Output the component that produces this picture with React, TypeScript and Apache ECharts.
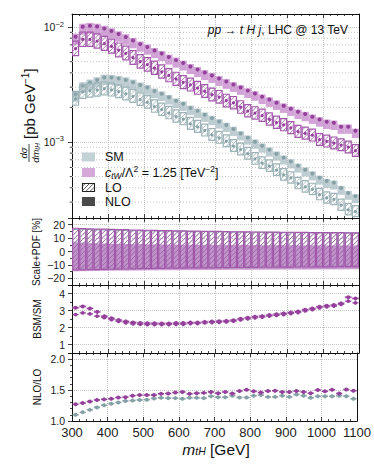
import React, { useEffect, useRef } from "react";
import * as echarts from "echarts";

const FONT = "Liberation Sans, Arial, DejaVu Sans, sans-serif";

// ---------- data ----------
const binEdges = [300, 320, 340, 360, 380, 400, 420, 440, 460, 480, 500, 520, 540, 560, 580, 600, 620, 640, 660, 680, 700, 720, 740, 760, 780, 800, 820, 840, 860, 880, 900, 920, 940, 960, 980, 1000, 1020, 1040, 1060, 1080, 1100];

// dsigma/dm_tH [pb/GeV]
const bsmNLO = [0.00824, 0.01006, 0.01026, 0.0101, 0.0097, 0.00923, 0.00869, 0.00819, 0.00763, 0.00711, 0.0067, 0.00625, 0.00588, 0.00548, 0.00516, 0.00486, 0.00453, 0.00427, 0.00402, 0.00379, 0.00357, 0.00336, 0.00316, 0.00298, 0.0028, 0.00264, 0.00248, 0.00234, 0.0022, 0.00207, 0.00195, 0.00183, 0.00175, 0.00166, 0.00157, 0.0015, 0.00147, 0.00136, 0.00136, 0.00125];
const smNLO = [0.002608, 0.003105, 0.003288, 0.003459, 0.003647, 0.003634, 0.003561, 0.00347, 0.003317, 0.003132, 0.002978, 0.002778, 0.002625, 0.002446, 0.002283, 0.00215, 0.001978, 0.001865, 0.001725, 0.001613, 0.001506, 0.001406, 0.0013, 0.001187, 0.00109, 0.001004, 0.000929, 0.000857, 0.000791, 0.000731, 0.000677, 0.000622, 0.000574, 0.000532, 0.000488, 0.000457, 0.000443, 0.000398, 0.00036, 0.000337];
const bsmLO = [0.006488, 0.007798, 0.007802, 0.007537, 0.007185, 0.006787, 0.006297, 0.005913, 0.005411, 0.005007, 0.004718, 0.004401, 0.004083, 0.003792, 0.003534, 0.003306, 0.003146, 0.002945, 0.002763, 0.002578, 0.002462, 0.002286, 0.002187, 0.002007, 0.00186, 0.001784, 0.001699, 0.001576, 0.001477, 0.001408, 0.001327, 0.001232, 0.00119, 0.001145, 0.001047, 0.001014, 0.000977, 0.000941, 0.000901, 0.000839];
const smLO = [0.002371, 0.002724, 0.002786, 0.002835, 0.002906, 0.002839, 0.002739, 0.002619, 0.002494, 0.002337, 0.002214, 0.002035, 0.001909, 0.001785, 0.001666, 0.001581, 0.001439, 0.001356, 0.001259, 0.001152, 0.001087, 0.001015, 0.000922, 0.00086, 0.00079, 0.000712, 0.000654, 0.000617, 0.000569, 0.000518, 0.000487, 0.000435, 0.000407, 0.000387, 0.000349, 0.000326, 0.000316, 0.000282, 0.000257, 0.000248];

// Scale+PDF relative uncertainty [%]
const bsmLoUp = [17.8, 17.6, 17.4, 17.2, 17.1, 16.9, 16.8, 16.7, 16.5, 16.4, 16.3, 16.2, 16.1, 16.0, 15.9, 15.8, 15.7, 15.6, 15.5, 15.5, 15.4, 15.3, 15.2, 15.2, 15.1, 15.0, 15.0, 14.9, 14.9, 14.8, 14.8, 14.7, 14.7, 14.6, 14.6, 14.5, 14.5, 14.5, 14.4, 14.4];
const bsmLoDn = [-14.2, -14.1, -14.0, -13.9, -13.8, -13.7, -13.6, -13.5, -13.4, -13.3, -13.2, -13.1, -13.0, -12.9, -12.9, -12.8, -12.7, -12.7, -12.6, -12.6, -12.5, -12.5, -12.4, -12.4, -12.3, -12.3, -12.2, -12.2, -12.1, -12.1, -12.1, -12.0, -12.0, -12.0, -11.9, -11.9, -11.9, -11.8, -11.8, -11.8];
const bsmNloUp = [6.5, 6.3, 6.1, 6.0, 5.9, 5.8, 5.7, 5.6, 5.5, 5.5, 5.4, 5.3, 5.3, 5.2, 5.2, 5.1, 5.1, 5.0, 5.0, 5.0, 4.9, 4.9, 4.9, 4.8, 4.8, 4.8, 4.7, 4.7, 4.7, 4.7, 4.6, 4.6, 4.6, 4.6, 4.6, 4.5, 4.5, 4.5, 4.5, 4.5];
const bsmNloDn = [-14.8, -14.7, -14.6, -14.5, -14.5, -14.4, -14.3, -14.3, -14.2, -14.2, -14.1, -14.1, -14.0, -14.0, -14.0, -13.9, -13.9, -13.9, -13.8, -13.8, -13.8, -13.7, -13.7, -13.7, -13.7, -13.6, -13.6, -13.6, -13.6, -13.5, -13.5, -13.5, -13.5, -13.5, -13.4, -13.4, -13.4, -13.4, -13.3, -13.3];
const smLoUp = [17.0, 16.9, 16.8, 16.6, 16.5, 16.4, 16.3, 16.2, 16.1, 16.0, 15.9, 15.8, 15.7, 15.6, 15.5, 15.4, 15.3, 15.2, 15.2, 15.1, 15.0, 15.0, 14.9, 14.9, 14.8, 14.8, 14.7, 14.7, 14.6, 14.6, 14.5, 14.5, 14.5, 14.4, 14.4, 14.4, 14.3, 14.3, 14.3, 14.2];
const smLoDn = [-13.0, -12.9, -12.8, -12.7, -12.6, -12.5, -12.4, -12.3, -12.2, -12.1, -12.0, -11.9, -11.9, -11.8, -11.7, -11.7, -11.6, -11.6, -11.5, -11.5, -11.4, -11.4, -11.3, -11.3, -11.3, -11.2, -11.2, -11.2, -11.1, -11.1, -11.1, -11.0, -11.0, -11.0, -11.0, -10.9, -10.9, -10.9, -10.9, -10.8];
const smNloUp = [7.5, 6.8, 6.3, 6.0, 5.8, 5.6, 5.5, 5.4, 5.3, 5.2, 5.1, 5.1, 5.0, 5.0, 4.9, 4.9, 4.8, 4.8, 4.8, 4.7, 4.7, 4.7, 4.6, 4.6, 4.6, 4.6, 4.5, 4.5, 4.5, 4.5, 4.5, 4.4, 4.4, 4.4, 4.4, 4.4, 4.3, 4.3, 4.3, 4.3];
const smNloDn = [-14.0, -13.9, -13.9, -13.8, -13.8, -13.7, -13.7, -13.6, -13.6, -13.5, -13.5, -13.5, -13.4, -13.4, -13.4, -13.3, -13.3, -13.3, -13.2, -13.2, -13.2, -13.2, -13.1, -13.1, -13.1, -13.1, -13.0, -13.0, -13.0, -13.0, -13.0, -12.9, -12.9, -12.9, -12.9, -12.9, -12.9, -12.8, -12.8, -12.8];

// BSM/SM
const ratioNLO = [3.16, 3.24, 3.12, 2.92, 2.66, 2.54, 2.44, 2.36, 2.30, 2.27, 2.25, 2.25, 2.24, 2.24, 2.26, 2.26, 2.29, 2.29, 2.33, 2.35, 2.37, 2.39, 2.43, 2.51, 2.57, 2.63, 2.67, 2.73, 2.78, 2.83, 2.88, 2.94, 3.05, 3.12, 3.22, 3.28, 3.32, 3.42, 3.78, 3.71];
const ratioLO = [2.76, 2.86, 2.80, 2.67, 2.58, 2.46, 2.36, 2.28, 2.22, 2.19, 2.17, 2.17, 2.17, 2.17, 2.19, 2.19, 2.23, 2.23, 2.27, 2.29, 2.31, 2.33, 2.37, 2.45, 2.51, 2.57, 2.61, 2.67, 2.71, 2.76, 2.82, 2.88, 2.98, 3.06, 3.16, 3.22, 3.26, 3.36, 3.55, 3.45];

// NLO/LO
const kBSM = [1.27, 1.29, 1.315, 1.34, 1.35, 1.36, 1.38, 1.385, 1.41, 1.42, 1.42, 1.42, 1.44, 1.445, 1.46, 1.47, 1.44, 1.45, 1.455, 1.47, 1.45, 1.47, 1.445, 1.485, 1.505, 1.48, 1.46, 1.485, 1.49, 1.47, 1.47, 1.485, 1.47, 1.45, 1.50, 1.48, 1.505, 1.445, 1.51, 1.49];
const kSM = [1.10, 1.14, 1.18, 1.22, 1.255, 1.28, 1.30, 1.325, 1.33, 1.34, 1.345, 1.365, 1.375, 1.37, 1.37, 1.36, 1.375, 1.375, 1.37, 1.40, 1.385, 1.385, 1.41, 1.38, 1.38, 1.41, 1.42, 1.39, 1.39, 1.41, 1.39, 1.43, 1.41, 1.375, 1.40, 1.40, 1.40, 1.41, 1.40, 1.36];

const logMinorTicks = [3e-4, 4e-4, 5e-4, 6e-4, 7e-4, 8e-4, 9e-4, 2e-3, 3e-3, 4e-3, 5e-3, 6e-3, 7e-3, 8e-3, 9e-3];

// ---------- styles ----------
const SM_FILL = "rgba(164,186,191,0.72)";
const SM_DOT = "#86a1a6";
const SM_EDGE = "#9db3b7";
const BSM_FILL = "rgba(192,128,198,0.72)";
const BSM_DOT = "#93409a";
const BSM_EDGE = "#a258aa";
const AXIS = "#111";
const GRIDC = "#c4c4c4";

function hatchLines(x0: number, y0: number, x1: number, y1: number, spacing: number, stroke: string, lw: number) {
  const out: any[] = [];
  const start = Math.ceil((x0 + y0) / spacing) * spacing;
  for (let c = start; c <= x1 + y1; c += spacing) {
    const xa = Math.max(x0, c - y1);
    const xb = Math.min(x1, c - y0);
    if (xb > xa) out.push({ type: "line", shape: { x1: xa, y1: c - xa, x2: xb, y2: c - xb }, style: { stroke, lineWidth: lw } });
  }
  return out;
}

function bandRender(fill: string, dot?: string, r = 2) {
  return (_p: any, api: any) => {
    const x0 = api.value(0), x1 = api.value(1), lo = api.value(2), hi = api.value(3);
    const a = api.coord([x0, hi]);
    const b = api.coord([x1, lo]);
    const children: any[] = [{ type: "rect", shape: { x: a[0], y: a[1], width: b[0] - a[0], height: b[1] - a[1] }, style: { fill } }];
    if (dot) {
      const c = api.coord([(x0 + x1) / 2, api.value(4)]);
      children.push({ type: "circle", shape: { cx: c[0], cy: c[1], r }, style: { fill: dot } });
    }
    return { type: "group", children };
  };
}

function boxRender(edge: string, dot?: string, r = 1.7) {
  return (_p: any, api: any) => {
    const x0 = api.value(0), x1 = api.value(1), lo = api.value(2), hi = api.value(3);
    const a = api.coord([x0, hi]);
    const b = api.coord([x1, lo]);
    const ix0 = a[0] + 0.7, iy0 = a[1] + 0.7, ix1 = b[0] - 0.7, iy1 = b[1] - 0.7;
    const children: any[] = hatchLines(ix0, iy0, ix1, iy1, 4.6, edge, 0.8);
    children.push({ type: "rect", shape: { x: a[0] + 0.6, y: a[1] + 0.6, width: b[0] - a[0] - 1.2, height: b[1] - a[1] - 1.2 }, style: { fill: "none", stroke: edge, lineWidth: 1.2 } });
    if (dot) {
      const c = api.coord([(x0 + x1) / 2, api.value(4)]);
      children.push({ type: "circle", shape: { cx: c[0], cy: c[1], r }, style: { fill: dot } });
    }
    return { type: "group", children };
  };
}

function pointRender(color: string, lw: number, r: number, bandFill?: string, half = 0) {
  return (_p: any, api: any) => {
    const x0 = api.value(0), x1 = api.value(1), v = api.value(2);
    const a = api.coord([x0, v]);
    const b = api.coord([x1, v]);
    const children: any[] = [];
    if (bandFill) {
      const t = api.coord([x0, v + half]);
      const u = api.coord([x1, v - half]);
      children.push({ type: "rect", shape: { x: t[0], y: t[1], width: u[0] - t[0], height: u[1] - t[1] }, style: { fill: bandFill } });
    }
    children.push({ type: "line", shape: { x1: a[0] + 0.5, y1: a[1], x2: b[0] - 0.5, y2: b[1] }, style: { stroke: color, lineWidth: lw } });
    children.push({ type: "circle", shape: { cx: (a[0] + b[0]) / 2, cy: a[1], r }, style: { fill: color } });
    return { type: "group", children };
  };
}

function App() {
  const ref = useRef<HTMLDivElement>(null);
  useEffect(() => {
    if (!ref.current) return;
    const chart = echarts.init(ref.current, null, { renderer: "svg" });

    const band = (vals: number[], up: number[], dn: number[]) =>
      vals.map((v, k) => [binEdges[k], binEdges[k + 1], v * (1 + dn[k] / 100), v * (1 + up[k] / 100), v]);
    const rel = (up: number[], dn: number[]) => up.map((u, k) => [binEdges[k], binEdges[k + 1], dn[k], u, 0]);
    const pts = (vals: number[]) => vals.map((v, k) => [binEdges[k], binEdges[k + 1], v]);

    const grids = [
      { top: 14, height: 204 },
      { top: 218, height: 67 },
      { top: 285, height: 68 },
      { top: 353, height: 68 },
    ];

    const xBottom = grids.map((_, i) => ({
      type: "value", gridIndex: i, min: 300, max: 1100, interval: 100, position: "bottom",
      axisLine: { show: true, onZero: false, lineStyle: { color: AXIS, width: 1 } },
      axisTick: { show: true, inside: true, length: 4, lineStyle: { color: AXIS, width: 0.8 } },
      minorTick: { show: true, splitNumber: 5, length: 2, lineStyle: { color: AXIS, width: 0.8 } },
      axisLabel: { show: i === 3, fontSize: 13, color: "#222", fontFamily: FONT, margin: 5, formatter: (v: number) => String(v) },
      splitLine: { show: true, lineStyle: { color: GRIDC, type: "dotted", width: 1 } },
    }));
    const xTop = grids.map((_, i) => ({
      type: "value", gridIndex: i, min: 300, max: 1100, interval: 100, position: "top",
      axisLine: { show: true, onZero: false, lineStyle: { color: AXIS, width: 1 } },
      axisTick: { show: true, inside: true, length: 4, lineStyle: { color: AXIS, width: 0.8 } },
      minorTick: { show: true, splitNumber: 5, length: 2, lineStyle: { color: AXIS, width: 0.8 } },
      axisLabel: { show: false },
      splitLine: { show: false },
    }));

    const yLab = { fontSize: 10.5, color: "#222", fontFamily: FONT, margin: 7, showMinLabel: false, showMaxLabel: false };
    const yCommon = {
      position: "left",
      axisLine: { show: true, onZero: false, lineStyle: { color: AXIS, width: 1 } },
      axisTick: { show: true, length: 4, lineStyle: { color: AXIS, width: 0.8 } },
      splitLine: { show: true, lineStyle: { color: GRIDC, type: "dotted", width: 1 } },
    };
    const yLeft: any[] = [
      {
        ...yCommon, type: "log", logBase: 10, gridIndex: 0, min: 2.18e-4, max: 1.3e-2,
        axisLabel: {
          ...yLab, margin: 8,
          formatter: (v: number) => {
            const e = Math.log10(v);
            const r = Math.round(e);
            if (Math.abs(e - r) > 1e-6) return "";
            return `{b|10}{s|${r < 0 ? "\u2212" : ""}${Math.abs(r)}}`;
          },
          rich: {
            b: { fontSize: 10.5, fontFamily: FONT, color: "#222", lineHeight: 14 },
            s: { fontSize: 7.5, fontFamily: FONT, color: "#222", lineHeight: 4, verticalAlign: "top" },
          },
        },
      },
      {
        ...yCommon, type: "value", gridIndex: 1, min: -25, max: 25, splitNumber: 5,
        minorTick: { show: true, splitNumber: 2, length: 2, lineStyle: { color: AXIS, width: 0.8 } },
        axisLabel: { ...yLab, formatter: (v: number) => (v < 0 ? "\u2212" + Math.abs(v) : String(v)) },
      },
      {
        ...yCommon, type: "value", gridIndex: 2, min: 0.5, max: 4.5, splitNumber: 4,
        minorTick: { show: true, splitNumber: 2, length: 2, lineStyle: { color: AXIS, width: 0.8 } },
        axisLabel: { ...yLab },
      },
      {
        ...yCommon, type: "value", gridIndex: 3, min: 1.0, max: 2.1, splitNumber: 2,
        minorTick: { show: true, splitNumber: 5, length: 2, lineStyle: { color: AXIS, width: 0.8 } },
        axisLabel: { ...yLab, showMinLabel: true, formatter: (v: number) => v.toFixed(1) },
      },
    ];
    const yRight = grids.map((_, i) => ({
      type: "value", gridIndex: i, position: "right", min: 0, max: 1,
      axisLine: { show: true, onZero: false, lineStyle: { color: AXIS, width: 1 } },
      axisTick: { show: false }, axisLabel: { show: false }, splitLine: { show: false },
    }));

    const cs = (g: number, data: any[], renderItem: any, z = 2, clip = true) => ({
      type: "custom", xAxisIndex: g, yAxisIndex: g, data, renderItem, z, clip, silent: true,
      encode: { x: [0, 1], y: [2, 3] },
    });

    const minorGrid = {
      type: "custom", xAxisIndex: 0, yAxisIndex: 0, z: 1, silent: true, clip: false,
      data: logMinorTicks.map((v) => [300, v]),
      encode: { x: 0, y: 1 },
      renderItem: (_p: any, api: any) => {
        const a = api.coord([300, api.value(1)]);
        const b = api.coord([1100, api.value(1)]);
        return {
          type: "group",
          children: [
            { type: "line", shape: { x1: a[0], y1: a[1], x2: b[0], y2: b[1] }, style: { stroke: GRIDC, lineWidth: 1, lineDash: [1, 2] } },
            { type: "line", shape: { x1: a[0] - 2.2, y1: a[1], x2: a[0], y2: a[1] }, style: { stroke: AXIS, lineWidth: 0.8 } },
          ],
        };
      },
    };

    const series: any[] = [
      minorGrid,
      // top panel
      cs(0, band(smNLO, smNloUp, smNloDn), bandRender(SM_FILL, SM_DOT, 2)),
      cs(0, band(smLO, smLoUp, smLoDn), boxRender(SM_EDGE, SM_DOT, 1.6)),
      cs(0, band(bsmNLO, bsmNloUp, bsmNloDn), bandRender(BSM_FILL, BSM_DOT, 2)),
      cs(0, band(bsmLO, bsmLoUp, bsmLoDn), boxRender(BSM_EDGE, BSM_DOT, 1.6)),
      // scale+pdf
      cs(1, rel(smNloUp, smNloDn), bandRender(SM_FILL)),
      cs(1, rel(smLoUp, smLoDn), boxRender(SM_EDGE)),
      cs(1, rel(bsmNloUp, bsmNloDn), bandRender(BSM_FILL)),
      cs(1, rel(bsmLoUp, bsmLoDn), boxRender(BSM_EDGE)),
      // BSM/SM
      { ...cs(2, pts(ratioLO), pointRender(BSM_DOT, 1.2, 1.9)), encode: { x: [0, 1], y: 2 } },
      { ...cs(2, pts(ratioNLO), pointRender(BSM_DOT, 1.2, 2, "rgba(192,128,198,0.55)", 0.07)), encode: { x: [0, 1], y: 2 } },
      // NLO/LO
      { ...cs(3, pts(kSM), pointRender(SM_DOT, 1.6, 2)), encode: { x: [0, 1], y: 2 } },
      { ...cs(3, pts(kBSM), pointRender(BSM_DOT, 1.6, 2)), encode: { x: [0, 1], y: 2 } },
    ];

    const legendHatch = hatchLines(82.7, 183.7, 94.3, 191.3, 4.2, "#333", 0.8).map((e) => ({ ...e, z: 100 }));

    const graphic: any[] = [
      // legend
      { type: "rect", z: 100, shape: { x: 82, y: 152.5, width: 13, height: 9 }, style: { fill: "#c3d2d5" } },
      { type: "text", z: 100, x: 105, y: 157, style: { text: "SM", fontSize: 12.5, fontFamily: FONT, fill: "#111", verticalAlign: "middle" } },
      { type: "rect", z: 100, shape: { x: 82, y: 168, width: 13, height: 9 }, style: { fill: "#d5a9d9" } },
      {
        type: "text", z: 100, x: 105, y: 172.5,
        style: {
          text: "{i|c}{s|tW}{n|/\u039B}{p|2}{n| = 1.25 [TeV}{p|\u22122}{n|]}",
          verticalAlign: "middle", fill: "#111",
          rich: {
            n: { fontSize: 12.5, fontFamily: FONT, fill: "#111", lineHeight: 16 },
            i: { fontSize: 12.5, fontFamily: FONT, fontStyle: "italic", fill: "#111", lineHeight: 16 },
            s: { fontSize: 8.5, fontFamily: FONT, fontStyle: "italic", fill: "#111", lineHeight: 5, verticalAlign: "bottom" },
            p: { fontSize: 8.5, fontFamily: FONT, fill: "#111", lineHeight: 5, verticalAlign: "top" },
          },
        },
      },
      { type: "rect", z: 99, shape: { x: 82, y: 183, width: 13, height: 9 }, style: { fill: "#fff" } },
      ...legendHatch,
      { type: "rect", z: 100, shape: { x: 82.5, y: 183.5, width: 12, height: 8 }, style: { fill: "none", stroke: "#222", lineWidth: 1.1 } },
      { type: "text", z: 100, x: 105, y: 188, style: { text: "LO", fontSize: 12.5, fontFamily: FONT, fill: "#111", verticalAlign: "middle" } },
      { type: "rect", z: 100, shape: { x: 82, y: 197, width: 13, height: 9 }, style: { fill: "#4a4a4a" } },
      { type: "text", z: 100, x: 105, y: 202, style: { text: "NLO", fontSize: 12.5, fontFamily: FONT, fill: "#111", verticalAlign: "middle" } },
      // process annotation
      {
        type: "text", z: 100, x: 348, y: 30,
        style: {
          text: "{i|pp} {n|\u2192} {i|t H j}{n|, LHC @ 13 TeV}",
          align: "right", verticalAlign: "middle",
          rich: {
            n: { fontSize: 12, fontFamily: FONT, fill: "#111" },
            i: { fontSize: 12, fontFamily: FONT, fontStyle: "italic", fill: "#111" },
          },
        },
      },
      // y titles
      {
        type: "group", x: 29, y: 116, rotation: Math.PI / 2,
        children: [
          { type: "text", x: -37, y: -6, style: { text: "d\u03C3", fontSize: 9.5, fontFamily: FONT, fontStyle: "italic", fill: "#111", align: "center", verticalAlign: "middle" } },
          { type: "line", shape: { x1: -46, y1: 0, x2: -28, y2: 0 }, style: { stroke: "#111", lineWidth: 0.8 } },
          {
            type: "text", x: -37, y: 6,
            style: {
              text: "{i|dm}{s|tH}", align: "center", verticalAlign: "middle",
              rich: {
                i: { fontSize: 9.5, fontFamily: FONT, fontStyle: "italic", fill: "#111", lineHeight: 11 },
                s: { fontSize: 6.5, fontFamily: FONT, fontStyle: "italic", fill: "#111", lineHeight: 4, verticalAlign: "bottom" },
              },
            },
          },
          {
            type: "text", x: -23, y: 0,
            style: {
              text: "{n|[pb GeV}{p|\u22121}{n|]}", align: "left", verticalAlign: "middle",
              rich: {
                n: { fontSize: 15, fontFamily: FONT, fill: "#111", lineHeight: 18 },
                p: { fontSize: 10, fontFamily: FONT, fill: "#111", lineHeight: 6, verticalAlign: "top" },
              },
            },
          },
        ],
      },
      { type: "text", x: 36, y: 252, rotation: Math.PI / 2, style: { text: "Scale+PDF [%]", fontSize: 10, fontFamily: FONT, fill: "#111", align: "center", verticalAlign: "middle" } },
      { type: "text", x: 37, y: 319, rotation: Math.PI / 2, style: { text: "BSM/SM", fontSize: 10, fontFamily: FONT, fill: "#111", align: "center", verticalAlign: "middle" } },
      { type: "text", x: 37, y: 387, rotation: Math.PI / 2, style: { text: "NLO/LO", fontSize: 10, fontFamily: FONT, fill: "#111", align: "center", verticalAlign: "middle" } },
      // x title
      {
        type: "text", x: 216, y: 449,
        style: {
          text: "{i|m}{s|tH}{n| [GeV]}", align: "center", verticalAlign: "middle",
          rich: {
            n: { fontSize: 15.5, fontFamily: FONT, fill: "#111", lineHeight: 14 },
            i: { fontSize: 15.5, fontFamily: FONT, fontStyle: "italic", fill: "#111", lineHeight: 14 },
            s: { fontSize: 10.5, fontFamily: FONT, fontStyle: "italic", fill: "#111", lineHeight: 4, verticalAlign: "bottom" },
          },
        },
      },
    ];

    chart.setOption({
      animation: false,
      backgroundColor: "#fff",
      grid: grids.map((g) => ({ left: 72, right: 15, top: g.top, height: g.height, containLabel: false })),
      xAxis: [...xBottom, ...xTop],
      yAxis: [...yLeft, ...yRight],
      series,
      graphic,
    });
    return () => chart.dispose();
  }, []);
  return <div ref={ref} style={{ position: "fixed", left: 0, top: 0, width: 374, height: 475, background: "#fff" }} />;
}

export default App;
